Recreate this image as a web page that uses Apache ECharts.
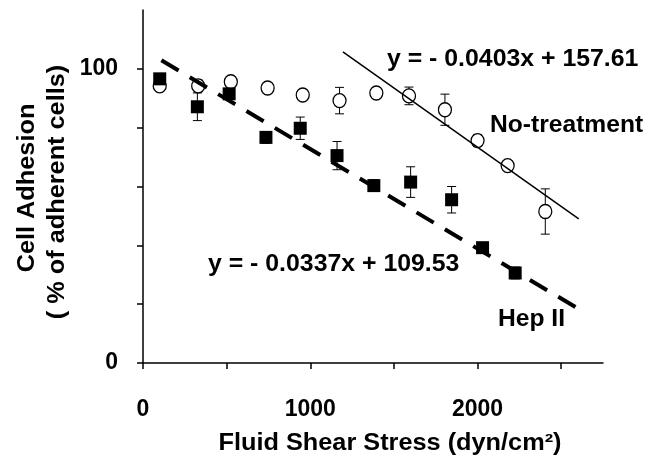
<!DOCTYPE html>
<html>
<head>
<meta charset="utf-8">
<script src="https://cdn.jsdelivr.net/npm/echarts@6/dist/echarts.min.js"></script>
<style>
html,body{margin:0;padding:0;background:#fff;}
#chart{width:649px;height:462px;}
</style>
</head>
<body>
<div id="chart"></div>
<script>
// ---- data ----
var noTreatX   = [100, 330, 525, 745, 955, 1175, 1395, 1590, 1805, 2000, 2180, 2405];
var noTreatY   = [94.2, 94.2, 95.6, 93.5, 91.1, 89.2, 91.8, 90.8, 86.1, 75.6, 67.1, 51.5];
var noTreatErr = [1, 2, 1, 1, 1.5, 4.5, 1.5, 3, 5.3, 2, 1, 7.7];

var hepX   = [100, 325, 515, 735, 940, 1160, 1380, 1600, 1845, 2030, 2225];
var hepY   = [96.6, 87.1, 91.5, 76.7, 79.8, 70.5, 60.3, 61.5, 55.5, 39.2, 30.6];
var hepErr = [1, 4.7, 1, 2, 3.8, 4.8, 2, 5.2, 4.5, 1, 2];

var noTreatFitX = [1195, 2605];
var noTreatFitY = [105.8, 49.0];
var hepFitX = [110, 2615];
var hepFitY = [102.9, 18.0];

var xTicks = [0, 500, 1000, 1500, 2000, 2500];
var xLabels = [0, 1000, 2000];
var yTicks = [0, 20, 40, 60, 80, 100];
var yLabels = [0, 100];

var eqNoTreat = 'y = - 0.0403x + 157.61';
var eqHep = 'y = - 0.0337x + 109.53';
var nameNoTreat = 'No-treatment';
var nameHep = 'Hep II';
var xTitle = 'Fluid Shear Stress (dyn/cm\u00B2)';
var yTitle1 = 'Cell Adhesion';
var yTitle2 = '( % of adherent cells)';

// ---- build ----
function zip(xs, ys) { return xs.map(function (x, i) { return [x, ys[i]]; }); }
function zipErr(xs, ys, es) { return xs.map(function (x, i) { return [x, ys[i] - es[i], ys[i] + es[i]]; }); }

var FONT = '"Liberation Sans", Arial, sans-serif';

function errRender(params, api) {
  var x = api.value(0);
  var lo = api.coord([x, api.value(1)]);
  var hi = api.coord([x, api.value(2)]);
  var hw = 4.5;
  var st = { stroke: '#000', lineWidth: 1 };
  return {
    type: 'group',
    children: [
      { type: 'line', shape: { x1: lo[0], y1: lo[1], x2: hi[0], y2: hi[1] }, style: st },
      { type: 'line', shape: { x1: lo[0] - hw, y1: lo[1], x2: lo[0] + hw, y2: lo[1] }, style: st },
      { type: 'line', shape: { x1: hi[0] - hw, y1: hi[1], x2: hi[0] + hw, y2: hi[1] }, style: st }
    ]
  };
}

var chart = echarts.init(document.getElementById('chart'), null, { renderer: 'canvas' });
var axisLineStyle = { color: '#000', width: 1.5 };
var plain = function (v) { return String(v); };
chart.setOption({
  animation: false,
  backgroundColor: '#fff',
  grid: { left: 143, right: 46, top: 10, bottom: 99, containLabel: false },
  xAxis: {
    type: 'value', min: 0, max: 2750,
    axisLine: { show: true, onZero: false, lineStyle: axisLineStyle },
    axisTick: { show: true, length: 6, inside: false, customValues: xTicks, lineStyle: { color: '#000', width: 1.5 } },
    axisLabel: { customValues: xLabels, formatter: plain, margin: 35, color: '#000', fontFamily: FONT, fontWeight: 'bold', fontSize: 23 },
    splitLine: { show: false }
  },
  yAxis: {
    type: 'value', min: 0, max: 120,
    axisLine: { show: true, onZero: false, lineStyle: axisLineStyle },
    axisTick: { show: true, length: 6, inside: false, customValues: yTicks, lineStyle: { color: '#000', width: 1.5 } },
    axisLabel: { customValues: yLabels, formatter: plain, margin: 25, color: '#000', fontFamily: FONT, fontWeight: 'bold', fontSize: 23 },
    splitLine: { show: false }
  },
  series: [
    { type: 'custom', name: 'errNoTreat', renderItem: errRender, data: zipErr(noTreatX, noTreatY, noTreatErr), z: 1, encode: { x: 0, y: [1, 2] } },
    { type: 'custom', name: 'errHep', renderItem: errRender, data: zipErr(hepX, hepY, hepErr), z: 1, encode: { x: 0, y: [1, 2] } },
    { type: 'scatter', name: nameNoTreat, data: zip(noTreatX, noTreatY), symbol: 'circle', symbolSize: [13, 14],
      itemStyle: { color: '#fff', borderColor: '#000', borderWidth: 1.3, opacity: 1 }, z: 2 },
    { type: 'line', name: 'fitNoTreat', data: zip(noTreatFitX, noTreatFitY), showSymbol: false, symbol: 'none',
      lineStyle: { color: '#000', width: 1.5, type: 'solid' }, z: 3 },
    { type: 'line', name: 'fitHep', data: zip(hepFitX, hepFitY), showSymbol: false, symbol: 'none',
      lineStyle: { color: '#000', width: 4, type: [20, 13], cap: 'butt' }, z: 3 },
    { type: 'scatter', name: nameHep, data: zip(hepX, hepY), symbol: 'rect', symbolSize: 13,
      itemStyle: { color: '#000', opacity: 1 }, z: 4 }
  ],
  graphic: [
    { type: 'text', x: 387, y: 60, scaleX: 1.08, style: { text: eqNoTreat, fill: '#000', font: 'bold 23px ' + FONT, textVerticalAlign: 'middle' } },
    { type: 'text', x: 490, y: 126, scaleX: 1.07, style: { text: nameNoTreat, fill: '#000', font: 'bold 23px ' + FONT, textVerticalAlign: 'middle' } },
    { type: 'text', x: 208, y: 265, scaleX: 1.08, style: { text: eqHep, fill: '#000', font: 'bold 23px ' + FONT, textVerticalAlign: 'middle' } },
    { type: 'text', x: 498, y: 320, scaleX: 1.07, style: { text: nameHep, fill: '#000', font: 'bold 23px ' + FONT, textVerticalAlign: 'middle' } },
    { type: 'text', x: 390, y: 444, scaleX: 1.1, style: { text: xTitle, fill: '#000', font: 'bold 23px ' + FONT, textAlign: 'center', textVerticalAlign: 'middle' } },
    { type: 'text', x: 28, y: 188, rotation: Math.PI / 2, scaleX: 1.1, style: { text: yTitle1, fill: '#000', font: 'bold 23px ' + FONT, textAlign: 'center', textVerticalAlign: 'middle' } },
    { type: 'text', x: 58, y: 192, rotation: Math.PI / 2, scaleX: 1.1, style: { text: yTitle2, fill: '#000', font: 'bold 23px ' + FONT, textAlign: 'center', textVerticalAlign: 'middle' } }
  ]
});
</script>
</body>
</html>
